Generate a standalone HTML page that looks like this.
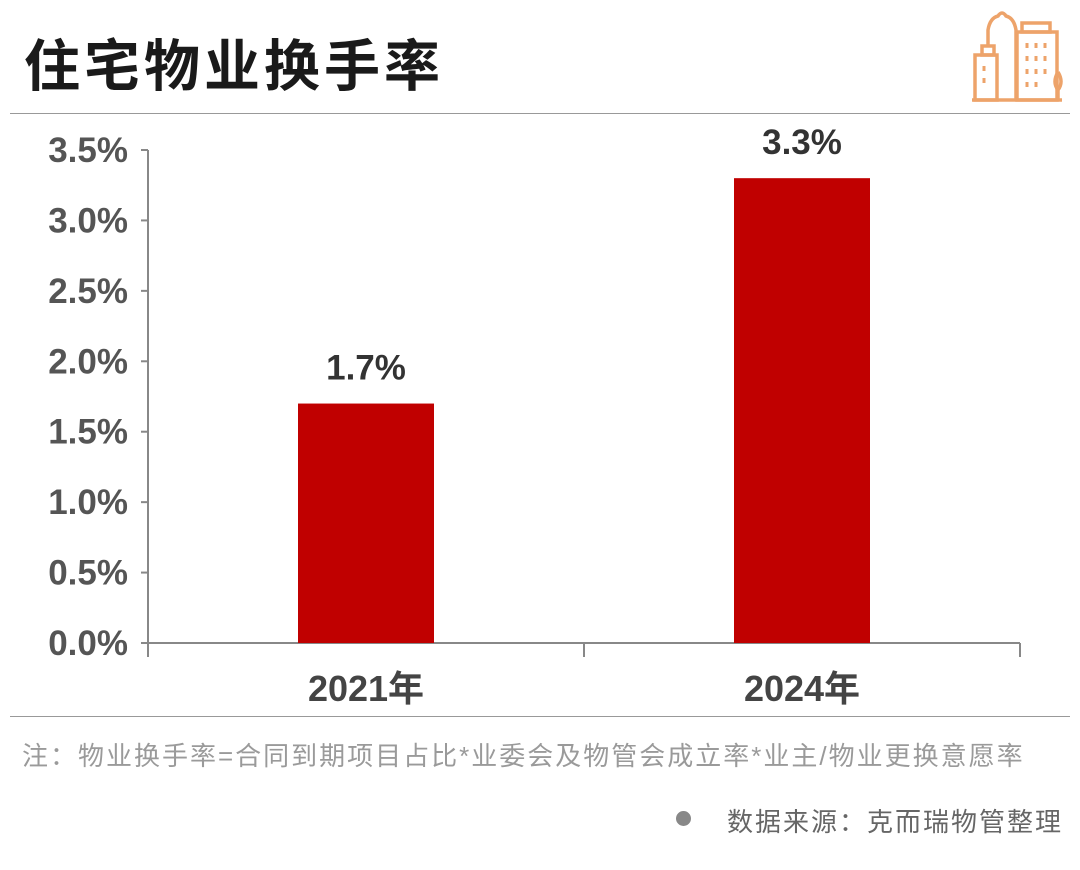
<!DOCTYPE html>
<html><head><meta charset="utf-8"><style>
body{margin:0;background:#fff;width:1080px;height:870px;overflow:hidden;font-family:"Liberation Sans","Noto Sans CJK SC",sans-serif;position:relative}
.t{position:absolute;white-space:nowrap}
</style></head><body>
<div class="t" style="left:24px;top:22px;font-size:56px;font-weight:bold;color:#1a1a1a;letter-spacing:4px">住宅物业换手率</div>
<svg style="position:absolute;left:960px;top:0" width="120" height="110" viewBox="960 0 120 110" fill="none" stroke="#eda36a" stroke-width="3.5">
<line x1="972" y1="100" x2="1062" y2="100"/>
<rect x="975" y="55" width="22" height="45"/>
<rect x="982" y="46" width="12" height="9"/>
<path d="M988 46 V30 Q990 18 998 16 Q1002 10 1006 16 Q1014 18 1016 30 V100"/>
<rect x="1017" y="32" width="40" height="68"/>
<rect x="1022" y="23" width="28" height="9"/>
<path d="M1058 72 q6 10 0 18 q-6 -8 0 -18 M1058 88 V100" />
<g stroke-width="3"><line x1="984" y1="66" x2="984" y2="71"/><line x1="984" y1="78" x2="984" y2="83"/>
<line x1="1027" y1="43" x2="1027" y2="48"/><line x1="1036" y1="43" x2="1036" y2="48"/><line x1="1045" y1="43" x2="1045" y2="48"/>
<line x1="1027" y1="56" x2="1027" y2="61"/><line x1="1036" y1="56" x2="1036" y2="61"/><line x1="1045" y1="56" x2="1045" y2="61"/>
<line x1="1027" y1="69" x2="1027" y2="74"/><line x1="1036" y1="69" x2="1036" y2="74"/><line x1="1045" y1="69" x2="1045" y2="74"/>
<line x1="1027" y1="82" x2="1027" y2="87"/><line x1="1036" y1="82" x2="1036" y2="87"/></g>
</svg>
<div style="position:absolute;left:10px;top:113px;width:1060px;height:1px;background:#999"></div>
<svg id="chart" style="position:absolute;left:0;top:0" width="1080" height="720"></svg>
<div style="position:absolute;left:10px;top:716px;width:1060px;height:1px;background:#999"></div>
<div class="t" style="left:22px;top:736px;font-size:26px;color:#9a9a9a;letter-spacing:2px">注：物业换手率=合同到期项目占比*业委会及物管会成立率*业主/物业更换意愿率</div>
<div style="position:absolute;left:676px;top:811px;width:15px;height:15px;border-radius:50%;background:#888"></div>
<div class="t" style="left:727px;top:802px;font-size:26px;color:#666;letter-spacing:2px">数据来源：克而瑞物管整理</div>
<script>
const categories=["2021年","2024年"];
const values=[1.7,3.3];
const valueLabels=["1.7%","3.3%"];
const ticks=[0,0.5,1,1.5,2,2.5,3,3.5];
const tickLabels=["0.0%","0.5%","1.0%","1.5%","2.0%","2.5%","3.0%","3.5%"];
const svg=document.getElementById('chart');const NS="http://www.w3.org/2000/svg";
const x0=148,x1=1020,y0=643,yTop=150,maxV=3.5;
const y=v=>y0-(v/maxV)*(y0-yTop);
const band=(x1-x0)/categories.length;
const xc=i=>x0+band*(i+0.5);
function el(t,a){const e=document.createElementNS(NS,t);for(const k in a)e.setAttribute(k,a[k]);svg.appendChild(e);return e;}
let ax=el('line',{x1:x0,y1:yTop,x2:x0,y2:y0,stroke:'#888','stroke-width':2});

let bx=el('line',{x1:x0,y1:y0,x2:x1,y2:y0,stroke:'#888','stroke-width':2});

ticks.forEach((v,i)=>{
 let l=el('line',{x1:x0-7,y1:y(v),x2:x0,y2:y(v),stroke:'#888','stroke-width':2});
 
 let t=el('text',{x:128,y:y(v)+12,'text-anchor':'end','font-size':35,'font-weight':'bold',fill:'#555'});
 t.textContent=tickLabels[i];
 
});
for(let i=0;i<=categories.length;i++){let l=el('line',{x1:x0+band*i,y1:y0,x2:x0+band*i,y2:y0+14,stroke:'#888','stroke-width':2});
 }
categories.forEach((c,i)=>{
 const w=136;
 let r=el('rect',{x:xc(i)-w/2,y:y(values[i]),width:w,height:y0-y(values[i]),fill:'#c00000'});
 
 let v=el('text',{x:xc(i),y:y(values[i])-24,'text-anchor':'middle','font-size':35,'font-weight':'bold',fill:'#333'});
 v.textContent=valueLabels[i];
 let t=el('text',{x:xc(i),y:701,'text-anchor':'middle','font-size':36,'font-weight':'bold',fill:'#444'});
 t.textContent=c;
});
</script>
</body></html>
